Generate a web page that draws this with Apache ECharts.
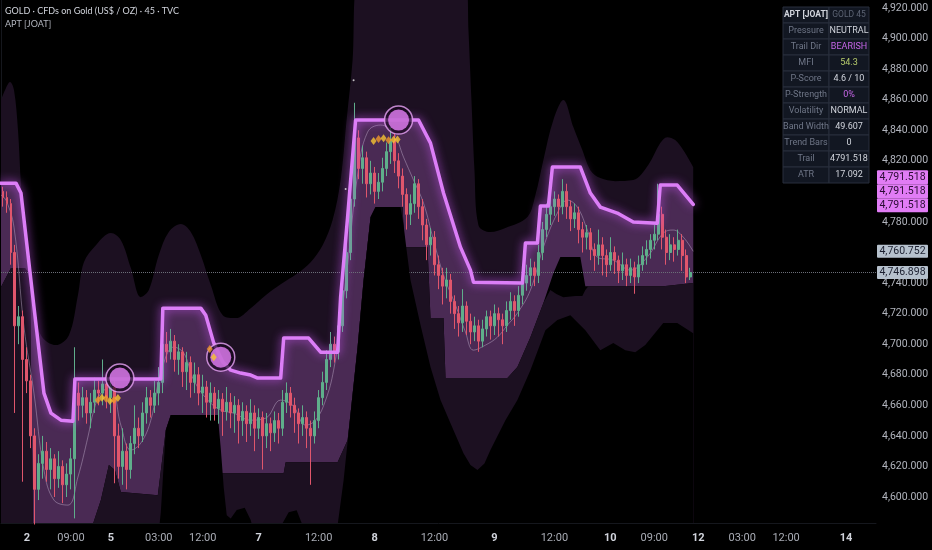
<!DOCTYPE html>
<html>
<head>
<meta charset="utf-8">
<title>GOLD 45 · APT [JOAT]</title>
<script src="https://cdn.jsdelivr.net/npm/echarts@6.0.0/dist/echarts.min.js"></script>
<style>
html, body { margin: 0; padding: 0; background: #000; }
#main { width: 932px; height: 550px; }
</style>
</head>
<body>
<div id="main"></div>
<script>
// ========== GOLD 45m · APT [JOAT] ==========
// ========== Data ==========
const SLOTS = 219;                 // bars on the time scale (incl. empty future)
const Y_MIN = 4582.99, Y_MAX = 4925.24;

// time axis labels (bar index -> text)
const tickSlots = [6, 17, 27, 39, 50, 64, 79, 93, 108, 123, 138, 152, 163, 174, 185, 196, 211];
const tickTexts = ['2', '09:00', '5', '03:00', '12:00', '7', '12:00', '8', '12:00', '9', '12:00', '10', '09:00', '12', '03:00', '12:00', '14'];
const dayTicks = ['2', '5', '7', '8', '9', '10', '12', '14'];
const priceTicks = [4600, 4620, 4640, 4660, 4680, 4700, 4720, 4740, 4780, 4820, 4840, 4860, 4880, 4900, 4920];

// candles: [open, close, low, high]
const candles = [
  [4800,4796,4790,4803],[4796,4792,4786,4800],[4792,4760,4752,4795],[4760,4712,4655,4765],
  [4712,4718,4700,4725],[4718,4690,4610,4722],[4690,4676,4668,4698],[4676,4640,4632,4680],
  [4640,4605,4582,4645],[4605,4622,4598,4628],[4622,4630,4612,4640],[4630,4618,4610,4636],
  [4618,4625,4605,4632],[4625,4612,4600,4628],[4612,4620,4606,4630],[4620,4608,4596,4624],
  [4608,4615,4600,4622],[4615,4625,4605,4632],[4625,4668,4586,4698],[4668,4660,4650,4675],
  [4660,4665,4652,4672],[4665,4655,4648,4670],[4655,4662,4645,4668],[4662,4670,4655,4678],
  [4670,4668,4660,4676],[4668,4674,4660,4690],[4674,4665,4658,4680],[4665,4672,4655,4680],
  [4672,4640,4609,4676],[4640,4620,4612,4648],[4620,4630,4608,4645],[4630,4618,4605,4635],
  [4618,4635,4612,4640],[4635,4645,4628,4660],[4645,4640,4632,4652],[4640,4655,4636,4662],
  [4655,4665,4648,4672],[4665,4660,4652,4670],[4660,4668,4655,4676],[4668,4675,4660,4685],
  [4675,4700,4668,4712],[4700,4695,4688,4708],[4695,4702,4690,4710],[4702,4690,4682,4706],
  [4690,4695,4680,4700],[4695,4682,4672,4698],[4682,4688,4670,4695],[4688,4675,4665,4692],
  [4675,4680,4668,4688],[4680,4668,4660,4685],[4668,4672,4655,4680],[4672,4662,4652,4676],
  [4662,4668,4650,4675],[4668,4658,4650,4672],[4658,4664,4648,4670],[4664,4656,4640,4668],
  [4656,4662,4650,4672],[4662,4655,4645,4668],[4655,4660,4642,4666],[4660,4650,4635,4664],
  [4650,4656,4640,4662],[4656,4648,4636,4660],[4648,4655,4640,4664],[4655,4645,4630,4660],
  [4645,4652,4638,4658],[4652,4640,4618,4656],[4640,4648,4632,4655],[4648,4642,4630,4652],
  [4642,4650,4636,4656],[4650,4645,4635,4655],[4645,4662,4640,4670],[4662,4668,4655,4675],
  [4668,4660,4652,4672],[4660,4655,4642,4665],[4655,4648,4635,4658],[4648,4652,4640,4660],
  [4652,4645,4632,4656],[4645,4640,4608,4650],[4640,4650,4635,4656],[4650,4665,4645,4670],
  [4665,4675,4660,4682],[4675,4690,4670,4696],[4690,4700,4685,4708],[4700,4695,4688,4705],
  [4695,4712,4690,4720],[4712,4735,4708,4742],[4735,4760,4730,4768],[4760,4795,4755,4802],
  [4795,4835,4790,4858],[4835,4815,4808,4840],[4815,4822,4805,4830],[4822,4805,4796,4826],
  [4805,4812,4798,4820],[4812,4800,4792,4816],[4800,4806,4795,4812],[4806,4815,4800,4822],
  [4815,4826,4810,4832],[4826,4833,4818,4842],[4833,4820,4812,4838],[4820,4810,4802,4825],
  [4810,4798,4790,4815],[4798,4785,4775,4802],[4785,4792,4778,4798],[4792,4805,4786,4810],
  [4805,4790,4782,4808],[4790,4778,4768,4795],[4778,4765,4755,4782],[4765,4770,4758,4776],
  [4770,4752,4745,4774],[4752,4745,4736,4758],[4745,4738,4726,4750],[4738,4742,4730,4750],
  [4742,4728,4720,4746],[4728,4720,4710,4732],[4720,4714,4705,4725],[4714,4725,4708,4736],
  [4725,4715,4706,4728],[4715,4708,4700,4720],[4708,4712,4702,4718],[4712,4702,4695,4716],
  [4702,4710,4698,4716],[4710,4718,4705,4722],[4718,4712,4703,4722],[4712,4720,4706,4726],
  [4720,4716,4705,4724],[4716,4712,4700,4720],[4712,4722,4708,4728],[4722,4728,4716,4734],
  [4728,4722,4712,4732],[4722,4732,4718,4738],[4732,4740,4726,4746],[4740,4745,4735,4752],
  [4745,4750,4738,4756],[4750,4745,4738,4754],[4745,4760,4740,4765],[4760,4775,4755,4780],
  [4775,4785,4770,4792],[4785,4790,4778,4796],[4790,4795,4784,4800],[4795,4790,4780,4798],
  [4790,4800,4785,4808],[4800,4790,4782,4805],[4790,4782,4774,4794],[4782,4786,4776,4792],
  [4786,4775,4766,4790],[4775,4770,4760,4780],[4770,4773,4762,4778],[4773,4762,4755,4776],
  [4762,4758,4748,4766],[4758,4765,4752,4775],[4765,4758,4745,4770],[4758,4752,4744,4762],
  [4752,4760,4748,4770],[4760,4755,4746,4764],[4755,4748,4740,4758],[4748,4752,4742,4760],
  [4752,4745,4738,4756],[4745,4750,4740,4756],[4750,4744,4733,4754],[4744,4752,4740,4758],
  [4752,4758,4748,4764],[4758,4762,4752,4768],[4762,4768,4756,4772],[4768,4772,4762,4778],
  [4772,4785,4768,4805],[4785,4770,4762,4790],[4770,4760,4752,4775],[4760,4765,4755,4772],
  [4765,4762,4754,4770],[4762,4768,4758,4775],[4768,4758,4748,4772],[4758,4744,4740,4762],
  [4744,4746.898,4742,4750]
];

// trail line [bar, price]
const trail = [
  [0,4805.4],[3.75,4805.4],[5,4798.9],[8.25,4724.3],[10.75,4668.0],[12.5,4654.9],[15,4650.3],
  [18,4649.6],[18.5,4677.2],[40,4677.2],[40.5,4723.6],[50,4723.6],[51.25,4719.0],[53.25,4700.7],
  [55.5,4688.3],[57.5,4683.0],[60,4681.1],[62.5,4679.8],[64.25,4677.8],[70,4677.8],[70.75,4704.0],
  [77,4704.0],[80,4694.8],[84.25,4694.8],[85,4730.8],[86.75,4783.2],[88.75,4846.7],[104.5,4846.7],
  [107.5,4831.6],[110.75,4798.9],[115,4763.5],[117.5,4748.5],[118.25,4740.6],[130.5,4740.0],
  [131.25,4766.2],[134.25,4766.2],[135,4790.4],[137,4790.4],[138,4815.9],[145,4815.9],
  [147.5,4798.9],[150,4789.7],[154.25,4785.8],[158.25,4779.9],[164.25,4779.2],[165,4804.1],
  [169.25,4804.1],[173.25,4791.518]
];

// outer upper band
const upperOuter = [
  [0,4859.8],[1.25,4867.6],[2.25,4871.5],[3.25,4866.3],[4.25,4840.1],[5,4804.1],[6.25,4761.6],
  [7.5,4728.9],[10,4705.9],[13.75,4699.4],[17,4705.9],[19.25,4732.1],[20.75,4753.7],[23.75,4764.8],
  [27.5,4772.7],[30,4768.1],[32.5,4749.8],[35,4730.8],[37,4735.4],[39.5,4758.3],[42,4773.4],
  [45,4778.6],[47.5,4773.4],[50,4758.3],[52.5,4738.7],[55.5,4719.0],[58.75,4717.1],[62.5,4723.6],
  [66.25,4732.1],[70,4739.3],[74.25,4746.5],[77.5,4753.7],[80.5,4764.8],[83,4781.2],[85,4807.4],
  [86.5,4846.7],[88,4885.9],[89,4931.7],[116.5,4931.7],[117,4905.6],[117.75,4859.8],[118.5,4814.0],
  [119.5,4777.9],[122.5,4773.4],[126.25,4776.0],[131.75,4783.2],[133.75,4797.6],[135.75,4820.5],
  [138.25,4846.7],[140.75,4859.8],[143.25,4842.1],[145.5,4827.0],[147.5,4813.9],[150,4808.7],
  [153.75,4806.7],[158.25,4807.4],[162,4817.2],[165,4831.6],[166.75,4835.5],[168.75,4833.6],
  [170.75,4827.0],[173.25,4815.9]
];

// floor of the trail channel
const floor = [
  [0,4737.4],[2.5,4749.8],[6,4749.8],[7.25,4745.2],[8,4578.3],[22.5,4578.3],[25,4598.0],
  [27,4620.9],[28.5,4617.6],[30,4603.2],[39.25,4601.2],[41.25,4643.8],[42.5,4653.6],[54.25,4653.6],
  [54.75,4615.6],[70.75,4615.6],[71.25,4622.8],[84.25,4622.8],[86.75,4637.2],[87.5,4654.9],
  [89.25,4698.1],[90.75,4741.9],[92.5,4783.2],[93.75,4789.7],[100.5,4789.7],[101,4763.5],
  [106.75,4763.5],[107.5,4717.1],[110.75,4717.1],[111.25,4677.8],[126.75,4677.8],[129.25,4685.0],
  [132.5,4704.6],[135.75,4726.9],[138.25,4746.5],[140,4757.0],[145,4757.0],[146.25,4738.0],
  [165.75,4738.0],[173.25,4740.0]
];

// inner lower band (top of the lower zone)
const lowerInner = [
  [0,4737.4],[2.5,4749.8],[6,4749.8],[7.25,4745.2],[8,4578.3],[22.5,4578.3],[25,4598.0],
  [27,4620.9],[28.5,4617.6],[30,4603.2],[39.25,4601.2],[41.25,4643.8],[42.5,4653.6],[54.25,4653.6],
  [54.75,4615.6],[70.75,4615.6],[71.25,4622.8],[84.25,4622.8],[86.75,4637.2],[87.5,4654.9],
  [89.25,4698.1],[90.75,4741.9],[92.5,4783.2],[93.75,4789.7],[100.5,4789.7],[101,4763.5],
  [106.75,4763.5],[107.5,4717.1],[110.75,4717.1],[111.25,4677.8],[126.75,4677.8],[129.25,4685.0],
  [132.5,4704.6],[135.75,4726.9],[137.5,4735.4],[139,4732.8],[140.75,4730.8],[143.75,4731.5],
  [145.5,4731.5],[146.25,4735.4],[147,4738.0],[165.75,4738.0],[173.25,4740.0]
];

// outer lower band
const lowerOuter = [
  [0,4571.8],[39.25,4571.8],[40,4590],[41.25,4643.8],[42.5,4653.6],[54.25,4653.6],[55,4632],
  [55.75,4606],[56.5,4588],[57.5,4586],[59,4591.5],[61,4593],[62.5,4585],[63.75,4571.8],[69,4571.8],
  [70.5,4583],[72,4590.1],[74,4591.4],[75.25,4583],[76.25,4571.8],[83.75,4571.8],[84.25,4581.6],
  [85.75,4611.0],[87.5,4654.9],[89.25,4698.1],[90.75,4741.9],[92.5,4783.2],[93.75,4789.7],[100,4789.7],
  [100.75,4778],[101.5,4762],[102.5,4741.9],[105,4712.5],[107.5,4685.0],[110,4663.4],[112.5,4648.3],
  [115.75,4628.7],[117.5,4621],[119.25,4617.6],[121,4622],[122.5,4630.7],[126.25,4650.3],[129.25,4663.4],
  [132.5,4683.0],[136.25,4709.2],[139.25,4715.8],[142.5,4719.0],[146.25,4709.2],[150,4696.1],
  [153.25,4700.7],[156.25,4696.1],[158.75,4694.8],[161.25,4699.4],[165.75,4713.8],[169.25,4713.8],
  [173.25,4707.2]
];

// basis (thin line)
const basis = [
  [0,4797.6],[1.25,4794.3],[3.25,4776.6],[5.75,4711.2],[8.25,4668.0],[10.75,4617.6],[13.25,4598.0],
  [16.75,4594.7],[19.25,4613.0],[21.75,4639.2],[23.25,4656.9],[25,4668.0],[27.5,4671.9],[30,4647.0],
  [32.5,4630.7],[35,4635.3],[37.5,4650.3],[40,4681.1],[43.25,4698.1],[45.75,4694.2],[48.25,4676.5],
  [51.75,4663.4],[55,4656.9],[58.25,4654.9],[62.5,4650.3],[66.25,4651.6],[70,4663.4],[73,4660.1],
  [76.25,4647.0],[78.75,4650.3],[81.25,4663.4],[83.25,4683.0],[85,4715.8],[86.75,4751.8],
  [89.25,4810.7],[91.75,4838.8],[95,4843.4],[98.25,4838.2],[100.75,4822.4],[103.25,4807.4],
  [105.75,4792.3],[108.25,4768.1],[110.75,4745.2],[113.75,4725.6],[116.25,4707.9],[118.25,4696.1],
  [121.25,4699.4],[124.25,4704.6],[126.75,4712.5],[129.25,4720.3],[132.5,4735.4],[135.75,4763.5],
  [139.25,4785.8],[141.75,4794.3],[144.25,4789.7],[146.75,4774.7],[149.25,4757.0],[153.25,4755.0],
  [157.5,4748.5],[161.75,4757.0],[165.75,4772.7],[168.25,4774.7],[170.75,4770.1],[173.25,4760.752]
];

// signals
const pressureDots = [[29.75,4677.8],[55,4691.5],[99.5,4846.7]];
const diamondsOrange = [[24.25,4663.5],[26.25,4664.5],[28.25,4663.5],[52.25,4696.8],[94.5,4834.2],[97,4833.4]];
const diamondsYellow = [[25.25,4665.0],[27.25,4662.8],[29.25,4664.8],[53.25,4691.5],[93.25,4833.0],[95.75,4834.8],[98.25,4833.8],[99.25,4834.0]];
const whiteTicks = [[88.25,4872.8],[86.25,4801.5]];

// price scale labels
const lastPrice = 4746.898, basisPrice = 4760.752, trailPrice = 4791.518;

// dashboard
const tableKeys = ['Pressure', 'Trail Dir', 'MFI', 'P-Score', 'P-Strength', 'Volatility', 'Band Width', 'Trend Bars', 'Trail', 'ATR'];
const tableVals = ['NEUTRAL', 'BEARISH', '54.3', '4.6 / 10', '0%', 'NORMAL', '49.607', '0', '4791.518', '17.092'];
const tableColors = ['#d1d4dc', '#c766e8', '#b7cc6c', '#d1d4dc', '#c766e8', '#d1d4dc', '#d1d4dc', '#d1d4dc', '#d1d4dc', '#d1d4dc'];

// ========== Chart ==========
const FONT = 'Roboto, "Noto Sans", sans-serif';
const TITLE_FONT = 'Lato, Roboto, sans-serif';
const chart = echarts.init(document.getElementById('main'), null, { renderer: 'canvas' });
const fmt = v => v.toLocaleString('en-US', { minimumFractionDigits: 3, maximumFractionDigits: 3 });

const labelMap = {};
tickSlots.forEach((s, k) => { labelMap[s] = tickTexts[k]; });
const cats = [];
for (let i = 0; i < SLOTS; i++) cats.push(String(i));

// filled layers, each painted from its line down to the bottom of the pane
const layer = (name, data, color, z, smooth) => ({
    name, type: 'line', xAxisIndex: 1, yAxisIndex: 0, data, z,
    smooth: smooth || false, showSymbol: false, silent: true,
    lineStyle: { width: 0, opacity: 0 },
    areaStyle: { color, opacity: 1, origin: 'start' }
});

const DARK = '#1c1021', FILL = '#4a2a54', BLACK = '#000000';

const option = {
    backgroundColor: '#000000',
    animation: false,
    title: [
        { text: 'GOLD · CFDs on Gold (US$ / OZ) · 45 · TVC', left: 5, top: 7, padding: 0,
          textStyle: { color: '#d1d4dc', fontSize: 9, fontWeight: 'normal', fontFamily: TITLE_FONT } },
        { text: 'APT [JOAT]', left: 5, top: 20, padding: 0,
          textStyle: { color: '#b2b5be', fontSize: 9, fontWeight: 'normal', fontFamily: TITLE_FONT } }
    ],
    grid: { left: 0, right: 56, top: 0, bottom: 27 },
    xAxis: [
        { type: 'category', data: cats, boundaryGap: true,
          axisLine: { show: true, lineStyle: { color: '#15171d' } },
          axisTick: { show: false }, splitLine: { show: false },
          axisLabel: {
              interval: 0, margin: 10,
              formatter: (v, i) => {
                  const t = labelMap[i];
                  if (!t) return '';
                  return dayTicks.includes(t) ? '{d|' + t + '}' : '{t|' + t + '}';
              },
              rich: {
                  d: { color: '#d1d4dc', fontSize: 11, fontWeight: 'bold', fontFamily: FONT },
                  t: { color: '#a9acb5', fontSize: 11, fontFamily: FONT }
              }
          } },
        { type: 'value', min: 0, max: SLOTS, show: false }
    ],
    yAxis: {
        type: 'value', position: 'right', min: Y_MIN, max: Y_MAX, scale: true,
        axisLine: { show: true, lineStyle: { color: '#15171d' } },
        axisTick: { show: false }, splitLine: { show: false },
        axisLabel: { customValues: priceTicks, formatter: v => fmt(v), color: '#b2b5be',
                     fontSize: 10.5, margin: 6, fontFamily: FONT }
    },
    series: [
        layer('upper zone', upperOuter, DARK, 1, 0.35),
        layer('trail fill', trail, FILL, 2, false),
        layer('floor', floor, BLACK, 3, false),
        layer('lower zone', lowerInner, DARK, 4, false),
        layer('lower outer', lowerOuter, BLACK, 5, false),
        { name: 'basis', type: 'line', xAxisIndex: 1, data: basis, z: 6, smooth: 0.4,
          showSymbol: false, silent: true,
          lineStyle: { width: 1, color: 'rgba(196,178,206,0.45)' } },
        { name: 'GOLD', type: 'candlestick', xAxisIndex: 0, data: candles, z: 7, barWidth: '62%',
          itemStyle: { color: '#5fae8b', color0: '#e0566c', borderColor: '#5fae8b', borderColor0: '#e0566c', borderWidth: 1 },
          markLine: { silent: true, symbol: 'none', label: { show: false },
                      lineStyle: { type: 'dotted', color: '#6b6e78', width: 1 },
                      data: [{ yAxis: lastPrice }] } },
        { name: 'trail', type: 'line', xAxisIndex: 1, data: trail, z: 8, showSymbol: false, silent: true,
          lineStyle: { width: 3.5, color: '#dc7ef7', cap: 'round', join: 'round',
                       shadowBlur: 10, shadowColor: 'rgba(196,84,236,0.95)' } },
        { name: 'ring', type: 'scatter', xAxisIndex: 1, data: pressureDots, z: 9, symbolSize: 28, silent: true,
          itemStyle: { color: 'rgba(22,6,28,0.85)', borderColor: '#e8a4f6', borderWidth: 1.5 } },
        { name: 'pressure', type: 'scatter', xAxisIndex: 1, data: pressureDots, z: 10, symbolSize: 21, silent: true,
          itemStyle: { color: '#e681f8' } },
        { name: 'diamond o', type: 'scatter', xAxisIndex: 1, data: diamondsOrange, z: 10, symbol: 'diamond',
          symbolSize: [6, 8], silent: true, itemStyle: { color: '#f0992a' } },
        { name: 'diamond y', type: 'scatter', xAxisIndex: 1, data: diamondsYellow, z: 10, symbol: 'diamond',
          symbolSize: [6, 8], silent: true, itemStyle: { color: '#f6c431' } },
        { name: 'ticks', type: 'scatter', xAxisIndex: 1, data: whiteTicks, z: 10, symbolSize: 2, silent: true,
          itemStyle: { color: '#e8e8e8' } }
    ]
};
chart.setOption(option);

// ========== Overlays: dashboard + price scale tags ==========
function buildOverlays() {
    const g = [];
    const TX = 783, TY = 7, W1 = 46, W2 = 40, RH = 16;
    const cell = (x, y, w, h) => ({ type: 'rect', shape: { x, y, width: w, height: h },
        style: { fill: '#121722', stroke: '#282e3c', lineWidth: 1 }, z: 100, silent: true });
    const txt = (x, y, s, color, bold, size) => ({ type: 'text', x, y, z: 101, silent: true,
        style: { text: s, fill: color, font: (bold ? 'bold ' : '') + (size || 9) + 'px ' + FONT,
                 align: 'center', verticalAlign: 'middle' } });

    g.push(cell(TX, TY, W1, RH), cell(TX + W1, TY, W2, RH));
    g.push(txt(TX + W1 / 2, TY + RH / 2, 'APT [JOAT]', '#d1d4dc', true, 8.5));
    g.push(txt(TX + W1 + W2 / 2, TY + RH / 2, 'GOLD 45', '#5c6373', false, 8.5));
    tableKeys.forEach((k, r) => {
        const y = TY + (r + 1) * RH;
        g.push(cell(TX, y, W1, RH), cell(TX + W1, y, W2, RH));
        g.push(txt(TX + W1 / 2, y + RH / 2, k, '#6f7687', false));
        g.push(txt(TX + W1 + W2 / 2, y + RH / 2, tableVals[r], tableColors[r], false));
    });

    const tag = (yc, h, s, bg, fg) => {
        g.push({ type: 'rect', shape: { x: 877, y: yc - h / 2, width: 51, height: h, r: 1 },
                 style: { fill: bg }, z: 100, silent: true });
        g.push({ type: 'text', x: 902.5, y: yc, z: 101, silent: true,
                 style: { text: s, fill: fg, font: '10.5px ' + FONT, align: 'center', verticalAlign: 'middle' } });
    };
    const yT = chart.convertToPixel({ yAxisIndex: 0 }, trailPrice);
    [2, 1, 0].forEach(k => tag(yT + 1 - k * 14, 14, fmt(trailPrice), '#e17cf5', '#2a0c33'));
    tag(chart.convertToPixel({ yAxisIndex: 0 }, basisPrice), 13, fmt(basisPrice), '#b6c1cd', '#1c2030');
    tag(chart.convertToPixel({ yAxisIndex: 0 }, lastPrice), 13, fmt(lastPrice), '#b6c1cd', '#1c2030');
    return g;
}
chart.setOption({ graphic: buildOverlays() });
</script>
</body>
</html>
